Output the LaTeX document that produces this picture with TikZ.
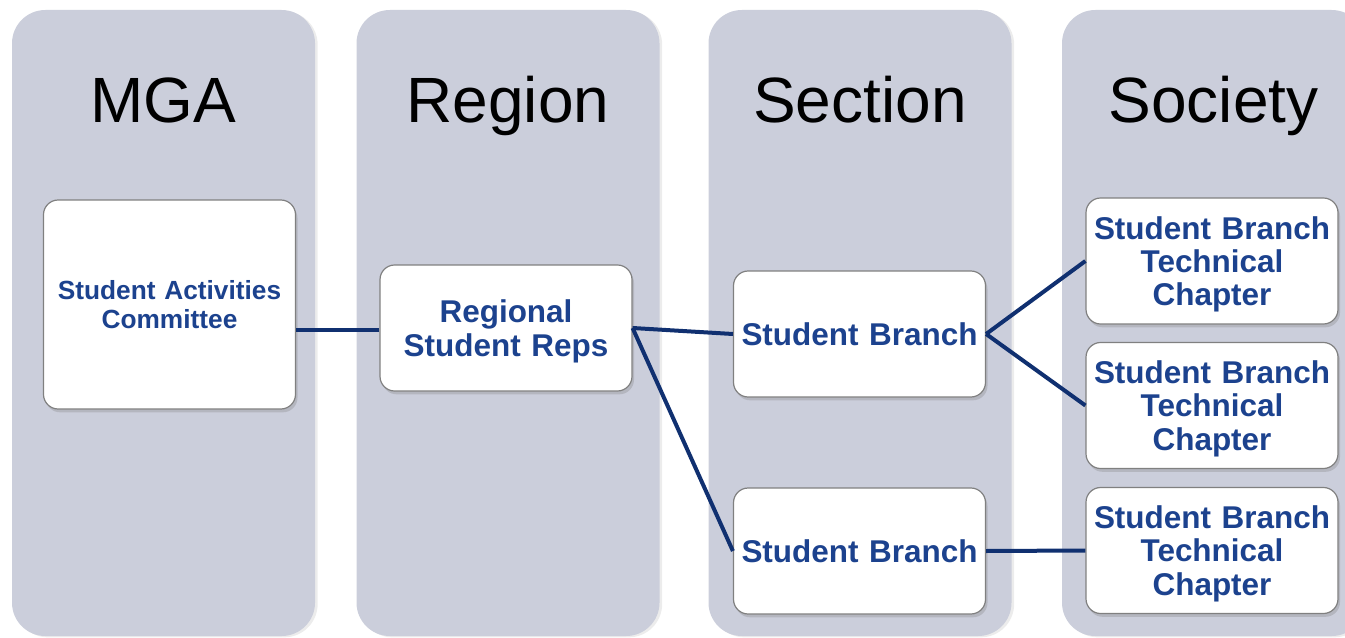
\documentclass[tikz,border=0pt]{standalone}
\usepackage{fontspec}
\setmainfont{Liberation Sans}
\usetikzlibrary{shadows}

\begin{document}
\begin{tikzpicture}
	[x=0.75pt,y=-0.75pt,
	%Styles
	column/.style={fill=panelgray,rounded corners=25pt,
		drop shadow={shadow xshift=2pt,shadow yshift=-1pt,opacity=0.15}},
	column title/.style={anchor=base,font=\fontsize{48}{56}\selectfont},
	unit/.style={draw=black!50,line width=0.9pt,fill=white,rounded corners=11pt,
		minimum width=189pt,minimum height=94.5pt,text width=186pt,align=center,
		inner sep=0pt,text=textblue,font=\bfseries\fontsize{23.6}{24.9}\selectfont,
		drop shadow={shadow xshift=1.5pt,shadow yshift=-2.5pt,opacity=0.3}},
	two rows/.style={text depth=24.9pt},
	three rows/.style={text depth=49.8pt},
	link/.style={draw=linkblue,line width=3pt}
	]
	
	%Colors
	\definecolor{panelgray}{RGB}{203,206,219}
	\definecolor{textblue}{RGB}{28,66,142}
	\definecolor{linkblue}{RGB}{16,48,112}
	
	\useasboundingbox (0,0) rectangle (1345,638);
	
	%The columns
	\foreach \cx/\title [count=\i] in {163.5/MGA,508/Region,860/Section,1213.5/Society}
	{
		\fill[column] (\cx-151.5,10) rectangle (\cx+151.5,636);
		\node[column title] (title\i) at (\cx,123) {\title};
	}
	
	%The boxes
	\node[unit,minimum height=156.75pt,font=\bfseries\fontsize{19.7}{21.8}\selectfont]
		(committee) at (169.5,304.5) {Student Activities\\Committee};
	\node[unit,two rows] (reps) at (506,328) {Regional\\Student Reps};
	\node[unit] (branchA) at (859.5,334) {Student Branch};
	\node[unit] (branchB) at (859.5,551) {Student Branch};
	\node[unit,three rows] (chapterA) at (1212,261) {Student Branch\\Technical\\Chapter};
	\node[unit,three rows] (chapterB) at (1212,405.5) {Student Branch\\Technical\\Chapter};
	\node[unit,three rows] (chapterC) at (1212,550.5) {Student Branch\\Technical\\Chapter};
	
	%The links
	\draw[link] ([yshift=-1.5pt]reps.west) -- ([yshift=-1.5pt]reps.west -| committee.east);
	\draw[link] (reps.east) -- (branchA.west);
	\draw[link] (reps.east) -- (branchB.west);
	\draw[link] (branchA.east) -- (chapterA.west);
	\draw[link] (branchA.east) -- (chapterB.west);
	\draw[link] (branchB.east) -- (chapterC.west);
\end{tikzpicture}
\end{document}
